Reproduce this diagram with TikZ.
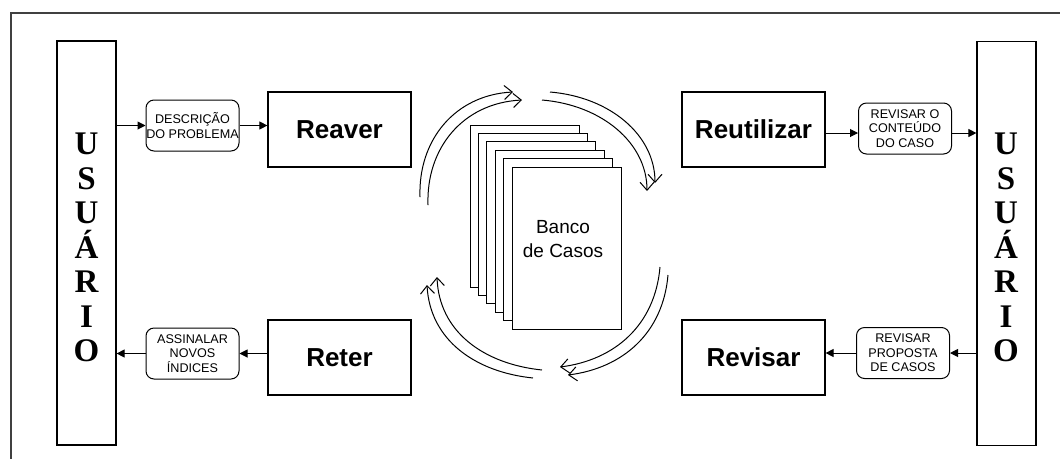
\documentclass[tikz,border=0pt]{standalone}
\usepackage{fontspec}
\setmainfont{Liberation Sans}
\newfontfamily\serifb{Liberation Serif}
\usetikzlibrary{arrows.meta,calc}
\begin{document}
\begin{tikzpicture}[x=1pt,y=-1pt,
  userbox/.style={draw,line width=1.2pt,minimum width=59pt,minimum height=404pt,inner sep=0pt},
  userletters/.style={font=\serifb\bfseries\fontsize{33}{34.5}\selectfont,align=center,inner sep=0pt},
  stepbox/.style={draw,line width=1.2pt,minimum width=143pt,minimum height=75pt,inner sep=0pt,font=\bfseries\fontsize{26}{30}\selectfont},
  notebox/.style={draw,line width=1pt,rounded corners=8pt,minimum width=93pt,minimum height=51pt,inner sep=0pt,align=center,font=\fontsize{12.6}{14.5}\selectfont},
  page/.style={draw,line width=1pt,fill=white,minimum width=109pt,minimum height=162pt,inner sep=0pt},
  arr/.style={line width=1pt,-{Triangle[length=8pt,width=8pt]}},
  cyc/.style={line width=1pt,-{Straight Barb[length=8pt,width=14pt]}}]
\useasboundingbox (0,0) rectangle (1060,459);
% outer frame
\draw[line width=1.5pt,black!75] (1060,13) -- (11,13) -- (11,459);
% user boxes
\node[userbox] (userL) at (86.5,243) {};
\node[userbox] (userR) at (1006.5,243.5) {};
\node[userletters] (userLtext) at (86.5,247.6) {U\\S\\U\\Á\\R\\I\\O};
\node[userletters] (userRtext) at (1006,247.6) {U\\S\\U\\Á\\R\\I\\O};
% main step boxes
\node[stepbox] (reaver) at (339.5,129.5) {Reaver};
\node[stepbox] (reter) at (339.5,357.5) {Reter};
\node[stepbox] (reutil) at (753.5,129.5) {Reutilizar};
\node[stepbox] (revisar) at (753.5,357.5) {Revisar};
% small notes
\node[notebox] (desc) at (192.5,125.5) {DESCRIÇÃO\\DO PROBLEMA};
\node[notebox] (assin) at (192.5,353.5) {ASSINALAR\\NOVOS\\ÍNDICES};
\node[notebox] (revcont) at (905,128.5) {REVISAR O\\CONTEÚDO\\DO CASO};
\node[notebox] (revprop) at (903,353) {REVISAR\\PROPOSTA\\DE CASOS};
% connectors
\draw[arr] (userL.east |- desc.west) -- (desc.west);
\draw[arr] (desc.east) -- (desc.east -| reaver.west);
\draw[arr] (reter.west |- assin.east) -- (assin.east);
\draw[arr] (assin.west) -- (assin.west -| userL.east);
\draw[arr] (reutil.east |- 0,133) -- (revcont.west |- 0,133);
\draw[arr] (revcont.east |- 0,133) -- (userR.west |- 0,133);
\draw[arr] (userR.west |- revprop.east) -- (revprop.east);
\draw[arr] (revprop.west) -- (revprop.west -| revisar.east);
% case bank
\foreach \i in {0,...,5}
  \node[page] (p\i) at (524.5+8.4*\i,206+8.4*\i) {};
\node[font=\fontsize{19}{24}\selectfont,align=center,inner sep=0pt] (banco) at (563,239) {Banco\\de Casos};
% cycle arrows
\draw[cyc] (420,197) .. controls (418,140) and (455,95) .. (513,92);
\draw[cyc] (428,205) .. controls (426,148) and (463,103) .. (522,100);
\draw[cyc] (550,92) .. controls (610,97) and (655,135) .. (655,183);
\draw[cyc] (542,100) .. controls (602,105) and (647,143) .. (647,191);
\draw[cyc] (660,267) .. controls (655,325) and (615,360) .. (560,367);
\draw[cyc] (668,275) .. controls (663,333) and (623,368) .. (568,375);
\draw[cyc] (533,378) .. controls (475,372) and (430,340) .. (427,285);
\draw[cyc] (542,370) .. controls (484,364) and (439,332) .. (437,277);
\end{tikzpicture}
\end{document}
